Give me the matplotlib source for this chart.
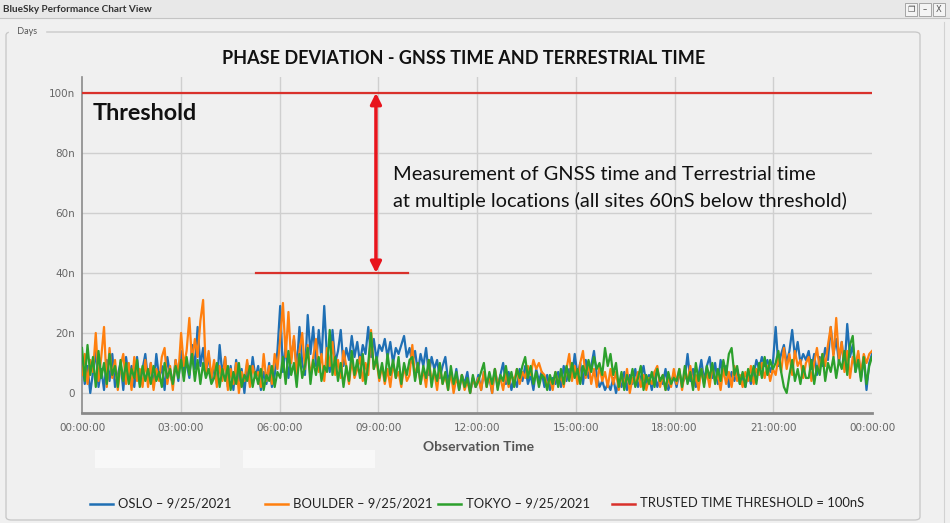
import numpy as np
import matplotlib.pyplot as plt
from matplotlib.lines import Line2D
from matplotlib.patches import Rectangle, FancyBboxPatch

# phase deviation samples (nanoseconds), one every 5 minutes over the day
# (each row below is two hours)
oslo = [
    12, 3, 9, 0, 7, 14, 2, 8, 1, 11, 4, 13, 2, 6, 10, 1, 12, 5, 9, 2, 12, 3, 8, 13,
    4, 10, 2, 13, 5, 9, 1, 12, 6, 3, 11, 4, 14, 7, 10, 5, 16, 8, 22, 9, 15, 6, 13, 4,
    9, 3, 16, 6, 12, 2, 9, 1, 11, 4, 8, 0, 10, 3, 12, 5, 9, 1, 7, 3, 10, 2, 6, 14,
    29, 7, 16, 5, 12, 18, 8, 22, 10, 6, 26, 13, 22, 9, 21, 11, 29, 12, 7, 21, 10, 14, 21, 9,
    15, 11, 19, 12, 17, 10, 16, 13, 22, 12, 18, 11, 16, 14, 18, 12, 17, 10, 15, 13, 16, 19, 12, 15,
    10, 14, 7, 13, 9, 15, 6, 12, 8, 11, 5, 9, 12, 4, 7, 2, 8, 1, 6, 3, 7, 0, 5, 2,
    6, 1, 7, 3, 5, 0, 8, 2, 6, 10, 3, 7, 1, 5, 2, 8, 4, 9, 3, 6, 1, 8, 4, 7,
    2, 6, 1, 5, 3, 7, 2, 9, 4, 8, 5, 13, 6, 10, 3, 11, 5, 9, 14, 6, 2, 4, 1, 3,
    1, 5, 0, 4, 2, 7, 1, 6, 3, 8, 2, 5, 9, 3, 6, 1, 7, 2, 5, 3, 8, 1, 4, 6,
    2, 7, 3, 5, 13, 4, 8, 2, 6, 11, 4, 9, 12, 5, 10, 3, 11, 6, 9, 2, 7, 4, 8, 3,
    5, 2, 7, 3, 6, 11, 8, 12, 9, 11, 7, 10, 22, 9, 13, 16, 10, 14, 21, 12, 17, 10, 13, 11,
    14, 8, 13, 6, 12, 9, 15, 11, 22, 13, 18, 10, 17, 8, 23, 12, 16, 7, 13, 5, 12, 1, 10, 13,
]
boulder = [
    6, 13, 3, 11, 7, 20, 4, 12, 22, 2, 15, 5, 11, 1, 9, 13, 3, 10, 1, 12, 4, 8, 2, 11,
    2, 10, 1, 8, 4, 12, 15, 3, 9, 1, 11, 6, 20, 9, 14, 25, 10, 18, 12, 24, 31, 7, 14, 5,
    11, 2, 9, 4, 12, 1, 8, 3, 10, 0, 7, 4, 11, 2, 9, 5, 7, 2, 13, 4, 9, 3, 13, 8,
    18, 30, 12, 27, 10, 19, 6, 14, 20, 8, 16, 5, 12, 18, 7, 13, 4, 15, 9, 17, 6, 11, 5, 14,
    9, 3, 11, 5, 8, 12, 4, 10, 6, 21, 8, 11, 4, 9, 3, 8, 2, 10, 5, 7, 2, 9, 4, 6,
    16, 5, 10, 3, 8, 2, 11, 4, 7, 1, 9, 3, 6, 1, 7, 0, 5, 2, 6, 1, 4, 0, 5, 2,
    5, 1, 7, 2, 6, 0, 8, 3, 5, 1, 7, 2, 6, 4, 8, 3, 7, 5, 9, 6, 11, 8, 10, 7,
    6, 2, 5, 1, 7, 3, 6, 2, 8, 13, 4, 9, 3, 10, 14, 5, 10, 3, 8, 2, 9, 4, 7, 2,
    8, 3, 7, 1, 6, 2, 8, 0, 5, 3, 7, 2, 6, 1, 5, 3, 7, 9, 2, 6, 1, 5, 2, 8,
    3, 8, 1, 7, 4, 9, 2, 6, 1, 8, 3, 7, 2, 9, 4, 6, 1, 8, 3, 7, 2, 9, 4, 6,
    2, 7, 4, 9, 3, 8, 6, 10, 5, 9, 4, 8, 6, 12, 7, 15, 8, 13, 6, 14, 9, 11, 5, 10,
    12, 4, 10, 15, 8, 13, 9, 16, 22, 12, 25, 11, 17, 7, 14, 5, 12, 9, 14, 6, 13, 10, 13, 14,
]
tokyo = [
    15, 4, 16, 6, 12, 2, 14, 5, 10, 3, 13, 6, 9, 2, 11, 4, 10, 3, 8, 5, 11, 2, 9, 4,
    8, 3, 9, 4, 7, 2, 10, 5, 8, 3, 9, 5, 11, 4, 12, 6, 13, 4, 11, 3, 10, 5, 8, 3,
    5, 10, 2, 8, 4, 9, 1, 7, 3, 10, 2, 6, 4, 9, 2, 7, 3, 8, 1, 6, 4, 9, 2, 7,
    5, 12, 3, 14, 6, 10, 2, 13, 5, 9, 15, 3, 11, 6, 12, 4, 9, 7, 21, 6, 12, 4, 10, 2,
    9, 4, 14, 6, 11, 5, 13, 3, 10, 20, 8, 12, 5, 10, 4, 13, 6, 11, 5, 12, 3, 10, 6, 11,
    12, 4, 10, 3, 9, 5, 11, 2, 8, 4, 10, 3, 7, 1, 9, 3, 7, 1, 6, 2, 5, 0, 6, 2,
    4, 7, 10, 2, 7, 3, 8, 1, 6, 4, 9, 3, 7, 2, 8, 5, 9, 12, 5, 9, 3, 7, 2, 6,
    5, 1, 6, 3, 7, 2, 8, 3, 9, 4, 10, 5, 8, 3, 9, 6, 11, 7, 12, 8, 10, 6, 15, 9,
    13, 6, 10, 2, 7, 1, 6, 3, 8, 2, 5, 9, 1, 6, 3, 7, 2, 8, 4, 6, 1, 7, 3, 5,
    4, 8, 2, 9, 3, 7, 1, 10, 4, 8, 2, 9, 5, 10, 3, 8, 4, 11, 6, 13, 15, 6, 9, 3,
    7, 2, 8, 4, 9, 3, 10, 5, 12, 6, 11, 8, 10, 14, 7, 2, 0, 6, 11, 4, 8, 3, 9, 5,
    5, 11, 3, 9, 6, 13, 4, 10, 7, 12, 5, 11, 8, 14, 6, 16, 19, 7, 11, 4, 12, 3, 9, 12,
]
threshold = 100
target_level = 40

series_names = ['OSLO \u2013 9/25/2021', 'BOULDER \u2013 9/25/2021',
                'TOKYO \u2013 9/25/2021', 'TRUSTED TIME THRESHOLD = 100nS']
hour_ticks = [0, 3, 6, 9, 12, 15, 18, 21, 24]
hour_labels = ['00:00:00', '03:00:00', '06:00:00', '09:00:00', '12:00:00',
               '15:00:00', '18:00:00', '21:00:00', '00:00:00']
y_ticks = [0, 20, 40, 60, 80, 100]
y_labels = ['0', '20n', '40n', '60n', '80n', '100n']

colors = ['#1f6fb4', '#ff7f0e', '#2ca02c', '#d9312b']
bg = '#f0f0f0'
W, H = 950, 523


def px(x, y):
    # pixel position in the picture -> figure fraction
    return x / W, 1 - y / H


fig = plt.figure(figsize=(9.5, 5.23), dpi=100)
fig.patch.set_facecolor(bg)

# window chrome
fig.add_artist(Rectangle(px(0, 18), 1, 18 / H, transform=fig.transFigure,
                         facecolor='#e8e8e8', edgecolor='none'))
fig.add_artist(Line2D([0, 1], [1 - 18 / H] * 2, transform=fig.transFigure,
                      color='#c4c4c4', lw=0.8))
fig.text(*px(3, 9), 'BlueSky Performance Chart View', fontsize=7.2,
         fontweight='bold', color='#333333', va='center', family='Lato')
for bx, glyph in zip([905, 919, 933], ['\u2750', '\u2013', 'X']):
    fig.add_artist(Rectangle(px(bx, 16), 12 / W, 13 / H, transform=fig.transFigure,
                             facecolor='#f4f4f4', edgecolor='#9a9a9a', lw=0.6))
    fig.text(*px(bx + 6, 9.5), glyph, fontsize=6, color='#555555',
             ha='center', va='center')

panel = FancyBboxPatch(px(6, 520), 914 / W, 488 / H, transform=fig.transFigure,
                       boxstyle='round,pad=0,rounding_size=0.006',
                       facecolor='none', edgecolor='#c6c6c6', lw=0.9)
fig.add_artist(panel)
fig.add_artist(Line2D([944 / W] * 2, [0, 1 - 22 / H], transform=fig.transFigure,
                      color='#d2d2d2', lw=0.8))
fig.text(*px(15, 31), ' Days ', fontsize=6.5, color='#555555', va='center',
         family='Lato', backgroundcolor=bg)

# blank boxes under the x axis
for bx, bw in [(95, 125), (243, 132)]:
    fig.add_artist(Rectangle(px(bx, 468), bw / W, 18 / H, transform=fig.transFigure,
                             facecolor='#f8f8f8', edgecolor='none'))

# plot area
ax = fig.add_axes([82 / W, 1 - 413 / H, 790 / W, 336 / H])
ax.set_facecolor(bg)
times = np.linspace(0, 24, len(oslo))
for vals, c in zip([oslo, boulder, tokyo], colors[:3]):
    ax.plot(times, vals, color=c, lw=1.6, zorder=3)

ax.axhline(threshold, color=colors[3], lw=1.6, zorder=4)

for h in hour_ticks[1:-1]:
    ax.axvline(h, color='#cfcfcf', lw=1, zorder=1)
for v in y_ticks:
    ax.axhline(v, color='#cfcfcf', lw=1, zorder=1)

ax.set_xlim(0, 24)
ax.set_ylim(-6.67, 105.3)
ax.set_xticks(hour_ticks)
ax.set_xticklabels(hour_labels)
ax.set_yticks(y_ticks)
ax.set_yticklabels(y_labels)
ax.tick_params(length=0, labelsize=7.5, labelcolor='#666666', pad=5)
ax.tick_params(axis='x', pad=7)
for s in ['top', 'right']:
    ax.spines[s].set_visible(False)
ax.spines['left'].set_color('#8a8a8a')
ax.spines['left'].set_linewidth(1.2)
ax.spines['bottom'].set_color('#8a8a8a')
ax.spines['bottom'].set_linewidth(2)

# annotation: gap between sites and threshold
arrow_t = 8.93
ax.annotate('', xy=(arrow_t, target_level), xytext=(arrow_t, threshold),
            arrowprops=dict(arrowstyle='<|-|>', color='#e8141c', lw=2.5,
                            mutation_scale=16, shrinkA=0, shrinkB=0), zorder=5)
ax.plot([5.29, 9.9], [target_level, target_level], color=colors[3], lw=1.6, zorder=4)
ax.text(0.33, 93.3, 'Threshold', fontsize=16.8, fontweight='bold',
        family='Lato', color='#111111', va='center')
ax.text(9.45, 72.7, 'Measurement of GNSS time and Terrestrial time',
        fontsize=14.4, family='Lato', color='#111111', va='center')
ax.text(9.45, 64.0, 'at multiple locations (all sites 60nS below threshold)',
        fontsize=14.4, family='Lato', color='#111111', va='center')

fig.text(*px(464, 58), 'PHASE DEVIATION - GNSS TIME AND TERRESTRIAL TIME',
         fontsize=13, fontweight='bold', family='Lato', color='#111111',
         ha='center', va='center')
fig.text(*px(479, 447), 'Observation Time', fontsize=10, fontweight='bold',
         family='Lato', color='#555555', ha='center', va='center')

# legend along the bottom
leg_x = [90, 265, 438, 612]
for x0, name, c in zip(leg_x, series_names, colors):
    fig.add_artist(Line2D([x0 / W, (x0 + 23) / W], [1 - 504 / H] * 2,
                          transform=fig.transFigure, color=c, lw=1.8))
    fig.text(*px(x0 + 28, 503), name, fontsize=9.4, family='Lato',
             color='#222222', va='center')

fig.savefig('out.png', dpi=100, facecolor=bg)
